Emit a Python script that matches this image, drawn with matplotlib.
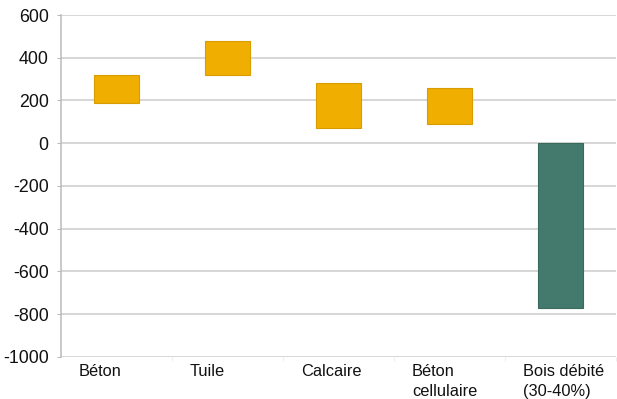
import matplotlib.pyplot as plt
from matplotlib.transforms import ScaledTranslation
import numpy as np

# material ranges (floating bars)
categories = ['Béton', 'Tuile', 'Calcaire', 'Béton\ncellulaire', 'Bois débité\n(30-40%)']
lows = [190, 320, 70, 90, -770]
highs = [320, 480, 280, 260, 0]
y_ticks = [600, 400, 200, 0, -200, -400, -600, -800, -1000]

plt.rcParams['font.family'] = ['Liberation Sans', 'DejaVu Sans']

fig = plt.figure(figsize=(6.17, 3.99), dpi=100)
ax = fig.add_axes([0.0989, 0.1053, 0.8995, 0.8571])

x = np.arange(len(categories))
colors = ['#F0AE00'] * 4 + ['#447A6D']
edges = ['#D99C00'] * 4 + ['#3A6A5E']
heights = [h - l for l, h in zip(lows, highs)]
ax.bar(x, heights, bottom=lows, width=0.4, color=colors, edgecolor=edges,
       linewidth=0.8, zorder=3)

ax.set_xlim(-0.5, len(categories) - 0.5)
ax.set_ylim(-1000, 600)
ax.set_yticks(y_ticks)
ax.set_yticklabels([str(v) for v in y_ticks], fontsize=12.8, color='#111111')
ax.yaxis.grid(True, color='#cccccc', linewidth=1.1, zorder=0)
ax.tick_params(axis='y', length=3, color='#bbbbbb', pad=6)

# faint ticks between categories, labels drawn as text
ax.set_xticks(x + 0.5)
ax.set_xticklabels([])
ax.tick_params(axis='x', length=3, color='#eeeeee')
shift = ax.transData + ScaledTranslation(0, -5 / 72, fig.dpi_scale_trans)
for i, lab in enumerate(categories):
    ax.text(i - 0.34, -1000, lab, ha='left', va='top', fontsize=11.8,
            linespacing=1.45, color='#111111', transform=shift)

for s in ['top', 'right', 'bottom']:
    ax.spines[s].set_visible(False)
ax.spines['left'].set_color('#bbbbbb')
ax.spines['left'].set_linewidth(1.1)

fig.savefig('out.png', dpi=100)
